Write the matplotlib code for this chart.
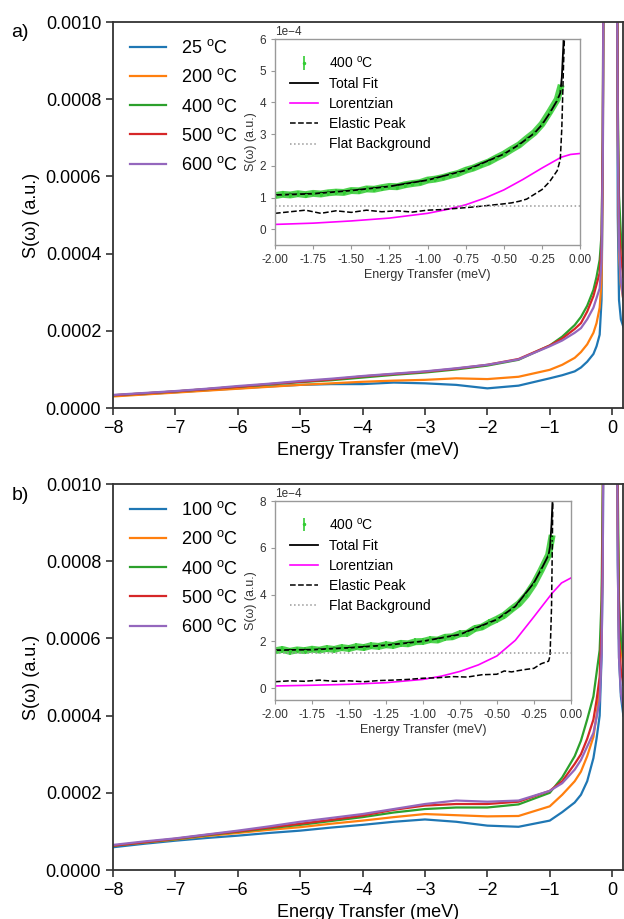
import matplotlib
matplotlib.use("Agg")
import matplotlib.pyplot as plt
from matplotlib.ticker import FormatStrFormatter, MultipleLocator
import numpy as np

plt.rcParams['font.family'] = ['Liberation Sans', 'DejaVu Sans']
plt.rcParams['mathtext.fontset'] = 'custom'
plt.rcParams['mathtext.rm'] = 'Liberation Sans'

SCALE = 1e-4  # all values below are in units of 1e-4

# ---- main panels: shared energy grid (meV) ----
x_main = [-8, -7.5, -7, -6.5, -6, -5.5, -5, -4.5, -4, -3.5, -3, -2.5, -2, -1.5, -1,
          -0.8, -0.6, -0.5, -0.4, -0.3, -0.25, -0.2, -0.17, -0.15, -0.13,
          -0.04, 0.07, 0.09, 0.11, 0.14, 0.18]

labels_a = ['25', '200', '400', '500', '600']
a_blue = [0.32, 0.36, 0.41, 0.46, 0.51, 0.56, 0.60, 0.62, 0.62, 0.66, 0.64, 0.60, 0.51, 0.58, 0.77,
          0.85, 0.95, 1.05, 1.20, 1.40, 1.60, 1.90, 2.8, 6, 15, 45, 15, 5, 2.8, 2.3, 2.1]
a_orange = [0.30, 0.35, 0.40, 0.45, 0.50, 0.55, 0.60, 0.64, 0.68, 0.71, 0.73, 0.77, 0.75, 0.81, 0.99,
            1.12, 1.30, 1.45, 1.65, 1.95, 2.20, 2.60, 3.3, 6, 15, 45, 15, 7, 4.0, 3.2, 2.8]
a_green = [0.33, 0.38, 0.43, 0.49, 0.55, 0.61, 0.67, 0.72, 0.79, 0.86, 0.92, 1.00, 1.10, 1.25, 1.62,
           1.85, 2.15, 2.36, 2.65, 3.06, 3.40, 3.84, 4.5, 7, 16, 45, 16, 8, 5.5, 4.5, 3.8]
a_red = [0.33, 0.38, 0.43, 0.49, 0.55, 0.62, 0.68, 0.74, 0.82, 0.88, 0.94, 1.02, 1.12, 1.27, 1.62,
         1.80, 2.05, 2.20, 2.50, 2.90, 3.20, 3.50, 4.2, 7, 16, 45, 16, 7.5, 4.8, 3.9, 3.4]
a_purple = [0.34, 0.39, 0.44, 0.50, 0.57, 0.63, 0.70, 0.76, 0.83, 0.89, 0.95, 1.03, 1.12, 1.26, 1.60,
            1.75, 1.95, 2.07, 2.30, 2.60, 2.85, 3.10, 3.8, 6.5, 15, 45, 15, 7, 4.2, 3.3, 2.8]

labels_b = ['100', '200', '400', '500', '600']
b_blue = [0.59, 0.68, 0.76, 0.83, 0.89, 0.96, 1.02, 1.10, 1.17, 1.25, 1.31, 1.25, 1.15, 1.12, 1.28,
          1.50, 1.75, 1.95, 2.30, 2.90, 3.40, 4.00, 5.5, 8, 15, 45, 15, 8, 5.5, 4.5, 4.0]
b_orange = [0.63, 0.71, 0.79, 0.88, 0.96, 1.04, 1.11, 1.20, 1.28, 1.37, 1.45, 1.42, 1.39, 1.40, 1.65,
            1.95, 2.30, 2.55, 2.95, 3.45, 4.00, 4.70, 6.0, 9, 16, 45, 16, 9, 6.5, 5.8, 5.3]
b_green = [0.63, 0.72, 0.80, 0.90, 0.99, 1.08, 1.17, 1.27, 1.37, 1.49, 1.58, 1.62, 1.62, 1.70, 2.00,
           2.40, 2.95, 3.35, 3.90, 4.50, 5.10, 5.70, 7.0, 10, 17, 45, 17, 10, 7, 6.0, 5.5]
b_red = [0.63, 0.72, 0.81, 0.91, 1.00, 1.10, 1.20, 1.30, 1.41, 1.56, 1.67, 1.71, 1.71, 1.77, 2.05,
         2.30, 2.75, 3.00, 3.40, 3.90, 4.40, 5.00, 6.3, 9, 16, 45, 16, 9, 6, 5.2, 4.8]
b_purple = [0.65, 0.74, 0.82, 0.92, 1.02, 1.13, 1.25, 1.35, 1.45, 1.58, 1.71, 1.80, 1.77, 1.80, 2.05,
            2.25, 2.60, 2.85, 3.20, 3.55, 3.95, 4.40, 5.6, 8, 15, 45, 15, 8, 5.5, 4.6, 4.2]

# ---- insets: 400 C fit ----
x_data = [-2.00, -1.95, -1.90, -1.85, -1.80, -1.75, -1.70, -1.65, -1.60, -1.55,
          -1.50, -1.45, -1.40, -1.35, -1.30, -1.25, -1.20, -1.15, -1.10, -1.05,
          -1.00, -0.95, -0.90, -0.85, -0.80, -0.75, -0.70, -0.65, -0.60, -0.55,
          -0.50, -0.45, -0.40, -0.35, -0.30, -0.25, -0.20, -0.15, -0.13]
a_data = [1.06, 1.10, 1.08, 1.12, 1.09, 1.13, 1.11, 1.15, 1.17, 1.16,
          1.22, 1.21, 1.27, 1.26, 1.31, 1.35, 1.34, 1.40, 1.44, 1.47,
          1.55, 1.58, 1.63, 1.70, 1.76, 1.86, 1.93, 2.03, 2.12, 2.25,
          2.37, 2.52, 2.66, 2.86, 3.05, 3.32, 3.70, 4.10, 4.45]
b_data = [1.60, 1.66, 1.58, 1.64, 1.61, 1.67, 1.63, 1.70, 1.66, 1.74,
          1.70, 1.78, 1.74, 1.82, 1.79, 1.86, 1.83, 1.92, 1.90, 1.99,
          2.00, 2.08, 2.06, 2.18, 2.20, 2.33, 2.35, 2.55, 2.62, 2.80,
          2.95, 3.12, 3.38, 3.62, 3.98, 4.45, 5.05, 5.70, 6.40]
a_err = 0.09
b_err = 0.14

a_fit_x = [-2.0, -1.75, -1.5, -1.25, -1.0, -0.75, -0.5, -0.4, -0.3, -0.25, -0.2, -0.15, -0.13, -0.12, -0.11, -0.10]
a_fit_y = [1.08, 1.12, 1.22, 1.35, 1.55, 1.86, 2.37, 2.67, 3.03, 3.30, 3.66, 4.07, 4.30, 4.80, 5.80, 7.50]
b_fit_x = [-2.0, -1.75, -1.5, -1.25, -1.0, -0.75, -0.5, -0.375, -0.25, -0.19, -0.15, -0.14, -0.13, -0.12]
b_fit_y = [1.63, 1.65, 1.73, 1.84, 2.01, 2.30, 2.94, 3.50, 4.50, 5.20, 5.70, 6.06, 7.05, 8.50]

lor_x = [-2.0, -1.75, -1.5, -1.25, -1.0, -0.875, -0.75, -0.625, -0.5, -0.375, -0.25, -0.125, -0.0625, 0.0]
a_lor = [0.15, 0.19, 0.26, 0.35, 0.50, 0.62, 0.77, 0.98, 1.24, 1.57, 1.93, 2.27, 2.36, 2.39]
b_lor = [0.10, 0.13, 0.17, 0.24, 0.38, 0.52, 0.72, 1.00, 1.38, 2.05, 3.05, 4.07, 4.50, 4.71]

a_el_x = [-2.0, -1.9, -1.8, -1.7, -1.6, -1.5, -1.4, -1.3, -1.2, -1.1, -1.0, -0.9, -0.8, -0.7,
          -0.6, -0.5, -0.45, -0.4, -0.35, -0.3, -0.25, -0.2, -0.15, -0.13, -0.12, -0.11, -0.10]
a_el_y = [0.50, 0.55, 0.60, 0.50, 0.58, 0.53, 0.60, 0.55, 0.58, 0.54, 0.60, 0.62, 0.66, 0.70,
          0.75, 0.80, 0.83, 0.88, 0.95, 1.10, 1.25, 1.50, 1.85, 2.20, 3.20, 5.00, 6.50]
b_el_x = [-2.0, -1.9, -1.8, -1.7, -1.6, -1.5, -1.4, -1.3, -1.2, -1.1, -1.0, -0.9, -0.8, -0.7,
          -0.6, -0.5, -0.45, -0.4, -0.35, -0.3, -0.25, -0.2, -0.15, -0.14, -0.13, -0.125, -0.12]
b_el_y = [0.28, 0.32, 0.30, 0.35, 0.30, 0.32, 0.28, 0.33, 0.35, 0.38, 0.43, 0.45, 0.50, 0.48,
          0.58, 0.60, 0.74, 0.70, 0.76, 0.81, 0.85, 1.05, 1.16, 1.40, 3.50, 6.00, 9.00]

a_bg = 0.72
b_bg = 1.52

colors = ['#1f77b4', '#ff7f0e', '#2ca02c', '#d62728', '#9467bd']
lime = '#33cc33'

fig = plt.figure(figsize=(6.24, 9.19), dpi=100)


def main_panel(rect, curves, labels, tag, tag_y):
    ax = fig.add_axes(rect)
    xs = np.array(x_main)
    for c, ys, lab in zip(colors, curves, labels):
        ax.plot(xs, np.array(ys) * SCALE, color=c, lw=1.6, label=lab + r' $^{\rm o}$C')
    ax.set_xlim(-8, 0.18)
    ax.set_ylim(0, 0.001)
    ax.xaxis.set_major_locator(MultipleLocator(1))
    ax.yaxis.set_major_locator(MultipleLocator(0.0002))
    ax.yaxis.set_major_formatter(FormatStrFormatter('%.4f'))
    ax.tick_params(labelsize=13, length=5, width=1.2, color='#333333')
    for s in ax.spines.values():
        s.set_color('#333333')
        s.set_linewidth(1.3)
    ax.set_xlabel('Energy Transfer (meV)', fontsize=13)
    ax.set_ylabel('S(ω) (a.u.)', fontsize=13)
    ax.legend(loc='upper left', frameon=False, fontsize=13, handlelength=2.0,
              labelspacing=0.62, borderaxespad=0.55)
    fig.text(0.018, tag_y, tag, fontsize=14, va='center')
    return ax


def inset(rect, data, err, fx, fy, lor, elx, ely, bg, ytop, ystep):
    ax = fig.add_axes(rect)
    xd = np.array(x_data)
    yd = np.array(data) * SCALE
    ax.plot(xd, yd, color=lime, lw=5, alpha=0.85)
    ax.errorbar(xd, yd, yerr=err * SCALE, fmt='.', ms=3, color=lime, ecolor=lime,
                elinewidth=1.2, capsize=0, label=r'400 $^{\rm o}$C')
    ax.plot(fx, np.array(fy) * SCALE, color='black', lw=1.3, label='Total Fit')
    ax.plot(lor_x, np.array(lor) * SCALE, color='#ff00ff', lw=1.2, label='Lorentzian')
    ax.plot(elx, np.array(ely) * SCALE, color='black', ls='--', lw=1.1, label='Elastic Peak')
    ax.axhline(bg * SCALE, color='#999999', ls=':', lw=1.1, label='Flat Background')
    ax.set_xlim(-2, 0)
    ax.set_ylim(-0.5 * SCALE, ytop * SCALE)
    ax.xaxis.set_major_locator(MultipleLocator(0.25))
    ax.yaxis.set_major_locator(MultipleLocator(ystep * SCALE))
    ax.xaxis.set_major_formatter(FormatStrFormatter('%.2f'))
    ax.ticklabel_format(axis='y', style='sci', scilimits=(-4, -4))
    ax.yaxis.get_offset_text().set_fontsize(8.5)
    ax.yaxis.get_offset_text().set_color('#333333')
    ax.tick_params(labelsize=8.5, length=3, color='#999999', labelcolor='#333333')
    for s in ax.spines.values():
        s.set_color('#999999')
        s.set_linewidth(1.0)
    ax.set_xlabel('Energy Transfer (meV)', fontsize=9, color='#333333', labelpad=2)
    ax.set_ylabel('S(ω) (a.u.)', fontsize=9, color='#333333', labelpad=2)
    handles, labs = ax.get_legend_handles_labels()
    order = [labs.index(r'400 $^{\rm o}$C')] + [i for i, l in enumerate(labs) if l != r'400 $^{\rm o}$C']
    ax.legend([handles[i] for i in order], [labs[i] for i in order], loc='upper left',
              frameon=False, fontsize=10, handlelength=2.0, labelspacing=0.45, borderaxespad=0.7)
    return ax


main_panel([0.181, 0.556, 0.818, 0.420], [a_blue, a_orange, a_green, a_red, a_purple],
           labels_a, 'a)', 0.965)
main_panel([0.181, 0.0533, 0.818, 0.420], [b_blue, b_orange, b_green, b_red, b_purple],
           labels_b, 'b)', 0.461)

inset([0.4407, 0.7334, 0.489, 0.224], a_data, a_err, a_fit_x, a_fit_y, a_lor,
      a_el_x, a_el_y, a_bg, 6, 1)
inset([0.4407, 0.2383, 0.474, 0.2165], b_data, b_err, b_fit_x, b_fit_y, b_lor,
      b_el_x, b_el_y, b_bg, 8, 2)

fig.savefig('out.png', dpi=100)
